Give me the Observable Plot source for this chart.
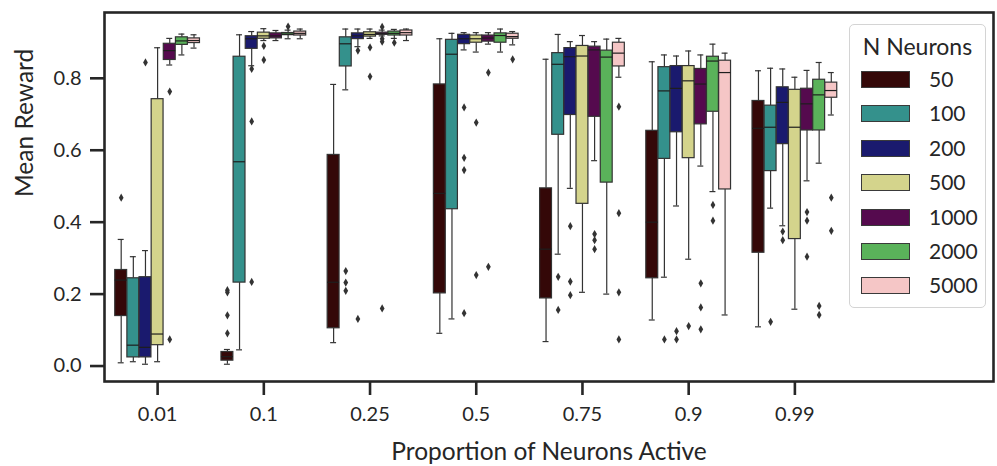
<!DOCTYPE html>
<html>
<head>
<meta charset="utf-8">
<script src="https://cdn.jsdelivr.net/npm/d3@7"></script>
<script src="https://cdn.jsdelivr.net/npm/@observablehq/plot@0.6"></script>
<style>
  html, body { margin: 0; padding: 0; background: #fff; }
  #wrap { position: relative; width: 997px; height: 466px; font-family: Lato, "Noto Sans", sans-serif; color: #262626; }
  #legend { position: absolute; left: 849px; top: 24px; width: 137px; height: 284px; border: 1.2px solid #d4d4d4; border-radius: 5px; background: #fff; box-sizing: border-box; }
  #legend .title { position: absolute; left: 0; width: 100%; top: 6px; text-align: center; font-size: 23px; line-height: 30px; }
  #legend .row { position: absolute; left: 11px; height: 17px; }
  #legend .sw { position: absolute; left: 0; top: 0; width: 49px; height: 17px; border: 1.2px solid #3a3a3a; box-sizing: border-box; }
  #legend .lb { position: absolute; left: 68px; top: -5px; font-size: 21px; line-height: 26px; }
</style>
</head>
<body>
<div id="wrap"><div id="chart"></div><div id="legend"></div></div>
<script>
// Categories
const groups = ["0.01", "0.1", "0.25", "0.5", "0.75", "0.9", "0.99"];
const neurons = ["50", "100", "200", "500", "1000", "2000", "5000"];
const palette = ["#340808", "#34918c", "#1a1a6e", "#d4d48c", "#550a4e", "#5ab25a", "#f5c6c6"];
const yTicks = [0, 0.2, 0.4, 0.6, 0.8];
const xLabel = "Proportion of Neurons Active";
const yLabel = "Mean Reward";
const legendTitle = "N Neurons";

// Box statistics per neuron count, one row per group: [whiskerLow, q1, median, q3, whiskerHigh]
const stats50 = [
  [0.009, 0.139, 0.239, 0.267, 0.352],
  [0.005, 0.015, 0.026, 0.039, 0.046],
  [0.065, 0.105, 0.233, 0.587, 0.783],
  [0.091, 0.202, 0.480, 0.783, 0.910],
  [0.068, 0.188, 0.325, 0.494, 0.853],
  [0.128, 0.244, 0.400, 0.654, 0.846],
  [0.109, 0.315, 0.661, 0.737, 0.821]
];
const stats100 = [
  [0.012, 0.024, 0.058, 0.244, 0.304],
  [0.045, 0.232, 0.568, 0.860, 0.921],
  [0.768, 0.833, 0.896, 0.914, 0.937],
  [0.131, 0.436, 0.867, 0.907, 0.925],
  [0.311, 0.643, 0.839, 0.870, 0.922],
  [0.247, 0.576, 0.765, 0.831, 0.865],
  [0.439, 0.542, 0.664, 0.724, 0.828]
];
const stats200 = [
  [0.005, 0.024, 0.052, 0.247, 0.321],
  [0.835, 0.882, 0.910, 0.917, 0.930],
  [0.888, 0.909, 0.918, 0.925, 0.937],
  [0.879, 0.895, 0.910, 0.921, 0.927],
  [0.494, 0.698, 0.860, 0.884, 0.902],
  [0.445, 0.650, 0.772, 0.834, 0.862],
  [0.390, 0.617, 0.733, 0.775, 0.826]
];
const stats500 = [
  [0.012, 0.058, 0.089, 0.742, 0.885],
  [0.905, 0.910, 0.918, 0.927, 0.938],
  [0.911, 0.916, 0.922, 0.928, 0.937],
  [0.873, 0.899, 0.910, 0.919, 0.927],
  [0.205, 0.451, 0.862, 0.890, 0.919],
  [0.297, 0.578, 0.793, 0.834, 0.876],
  [0.158, 0.353, 0.664, 0.768, 0.803]
];
const stats1000 = [
  [0.837, 0.851, 0.877, 0.896, 0.911],
  [0.905, 0.911, 0.918, 0.925, 0.933],
  [0.918, 0.921, 0.924, 0.927, 0.934],
  [0.895, 0.902, 0.912, 0.919, 0.927],
  [0.571, 0.693, 0.879, 0.888, 0.902],
  [0.556, 0.672, 0.784, 0.826, 0.865],
  [0.515, 0.655, 0.729, 0.771, 0.822]
];
const stats2000 = [
  [0.865, 0.893, 0.904, 0.914, 0.923],
  [0.910, 0.920, 0.923, 0.926, 0.934],
  [0.911, 0.919, 0.925, 0.930, 0.936],
  [0.873, 0.899, 0.919, 0.925, 0.937],
  [0.200, 0.510, 0.859, 0.877, 0.909],
  [0.485, 0.707, 0.848, 0.860, 0.895],
  [0.564, 0.655, 0.754, 0.796, 0.844]
];
const stats5000 = [
  [0.884, 0.898, 0.905, 0.911, 0.921],
  [0.910, 0.919, 0.925, 0.930, 0.937],
  [0.905, 0.919, 0.927, 0.933, 0.937],
  [0.893, 0.910, 0.916, 0.924, 0.930],
  [0.803, 0.833, 0.870, 0.899, 0.911],
  [0.142, 0.491, 0.816, 0.849, 0.870],
  [0.698, 0.746, 0.766, 0.788, 0.816]
];

// Outliers per neuron count, one list per group
const out50 = [[0.468], [0.211, 0.205, 0.141, 0.091], [], [], [], [], []];
const out100 = [[], [], [0.264, 0.232, 0.209], [], [0.248, 0.156], [0.074], [0.123]];
const out200 = [[0.844], [0.826, 0.680, 0.234], [0.877, 0.131], [0.719, 0.579, 0.545, 0.147], [0.389, 0.235, 0.197], [0.097, 0.074], [0.374, 0.350]];
const out500 = [[], [0.890, 0.851], [0.886, 0.805], [0.677, 0.253], [], [0.111], []];
const out1000 = [[0.763, 0.074], [], [0.943, 0.910, 0.902, 0.160], [0.816, 0.276], [0.367, 0.350, 0.325], [0.230, 0.163, 0.102], [0.428, 0.404, 0.304]];
const out2000 = [[], [0.944], [0.899], [], [], [0.448, 0.404], [0.167, 0.142]];
const out5000 = [[], [], [], [0.853], [0.721, 0.425, 0.205, 0.074], [], [0.468, 0.376]];

const allStats = [stats50, stats100, stats200, stats500, stats1000, stats2000, stats5000];
const allOut = [out50, out100, out200, out500, out1000, out2000, out5000];

// Layout (seaborn-style dodge)
const groupWidth = 0.8;
const slot = groupWidth / neurons.length;
const half = slot * 0.98 / 2;
const capHalf = half / 2;
const lineColor = "#333333";
const axisColor = "#262626";

const rows = neurons.flatMap((n, k) => allStats[k].map((s, g) => {
  const xc = g + (k - (neurons.length - 1) / 2) * slot;
  return {n, g, xc, x1: xc - half, x2: xc + half, c1: xc - capHalf, c2: xc + capHalf,
          lo: s[0], q1: s[1], med: s[2], q3: s[3], hi: s[4]};
}));
const fliers = neurons.flatMap((n, k) => allOut[k].flatMap((vals, g) => {
  const xc = g + (k - (neurons.length - 1) / 2) * slot;
  return vals.map(v => ({n, g, xc, v}));
}));

const chart = Plot.plot({
  width: 997,
  height: 466,
  marginLeft: 104,
  marginRight: 4,
  marginTop: 12,
  marginBottom: 85,
  style: {fontFamily: "Lato, 'Noto Sans', sans-serif", fontSize: "20px", color: axisColor, background: "#fff"},
  x: {domain: [-0.5, 7.87], label: null},
  y: {domain: [-0.043, 0.983], label: null},
  color: {domain: neurons, range: palette},
  marks: [
    Plot.ruleX(rows, {x: "xc", y1: "lo", y2: "q1", stroke: lineColor, strokeWidth: 1.2}),
    Plot.ruleX(rows, {x: "xc", y1: "q3", y2: "hi", stroke: lineColor, strokeWidth: 1.2}),
    Plot.ruleY(rows, {y: "lo", x1: "c1", x2: "c2", stroke: lineColor, strokeWidth: 1.2}),
    Plot.ruleY(rows, {y: "hi", x1: "c1", x2: "c2", stroke: lineColor, strokeWidth: 1.2}),
    Plot.rect(rows, {x1: "x1", x2: "x2", y1: "q1", y2: "q3", fill: "n", stroke: lineColor, strokeWidth: 1.2}),
    Plot.ruleY(rows, {y: "med", x1: "x1", x2: "x2", stroke: "#1e1e1e", strokeWidth: 1.2}),
    Plot.dot(fliers, {x: "xc", y: "v", symbol: "diamond", r: 2.5, fill: lineColor, stroke: "none"}),
    Plot.frame({stroke: axisColor, strokeWidth: 2.6}),
    Plot.axisX({ticks: d3.range(groups.length), tickFormat: i => groups[i], tickSize: 14, tickPadding: 11, strokeWidth: 2.6, stroke: axisColor, label: null}),
    Plot.axisY({ticks: yTicks, tickFormat: d3.format(".1f"), tickSize: 14, tickPadding: 9, strokeWidth: 2.6, stroke: axisColor, label: null}),
    Plot.text([xLabel], {text: d => d, frameAnchor: "bottom", dy: 78, fontSize: 24.5, fill: axisColor}),
    Plot.text([yLabel], {text: d => d, frameAnchor: "left", rotate: -90, dx: -79, fontSize: 24.5, fill: axisColor})
  ]
});
document.getElementById("chart").appendChild(chart);

// Legend
const legend = document.getElementById("legend");
const t = document.createElement("div");
t.className = "title"; t.textContent = legendTitle;
legend.appendChild(t);
neurons.forEach((n, i) => {
  const r = document.createElement("div");
  r.className = "row";
  r.style.top = (46 + i * 34.4) + "px";
  const sw = document.createElement("div");
  sw.className = "sw"; sw.style.background = palette[i];
  const lb = document.createElement("div");
  lb.className = "lb"; lb.textContent = n;
  r.appendChild(sw); r.appendChild(lb);
  legend.appendChild(r);
});
</script>
</body>
</html>
